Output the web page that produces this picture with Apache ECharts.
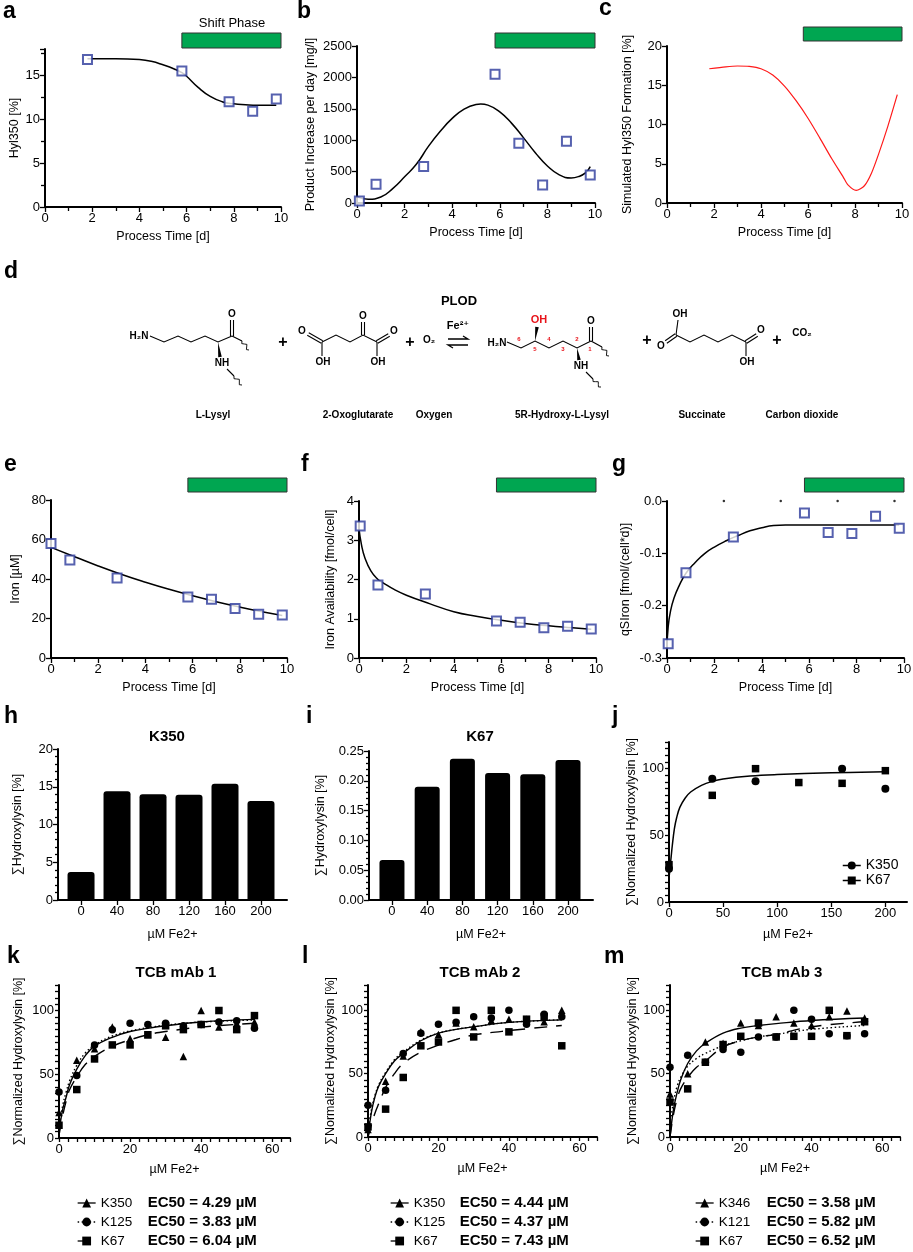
<!DOCTYPE html>
<html lang="en">
<head>
<meta charset="UTF-8">
<title>Hydroxylysine and iron panels</title>
<style>
  html, body { margin: 0; padding: 0; background: #fff; }
  #container { width: 913px; height: 1252px; }
</style>
</head>
<body>
<div id="container"></div>
<script src="https://cdn.jsdelivr.net/npm/echarts@6/dist/echarts.min.js"></script>
<script type="text/javascript">
// ---- data ----
var shiftPhase = [5.8, 10];

// a  Hyl350 vs process time
var aDays = [1.8, 5.8, 7.8, 8.8, 9.8];
var aHyl = [16.8, 15.5, 12.0, 10.9, 12.3];
var aFitDays = [1.8, 3, 4, 4.5, 5, 5.5, 5.8, 6, 6.5, 7, 7.5, 8, 8.5, 9, 9.8];
var aFit = [16.9, 16.9, 16.8, 16.6, 16.2, 15.7, 15.3, 14.9, 13.6, 12.6, 12.0, 11.75, 11.65, 11.6, 11.6];

// b  product increase per day
var bDays = [0.1, 0.8, 2.8, 5.8, 6.8, 7.8, 8.8, 9.8];
var bProduct = [30, 300, 580, 2050, 950, 285, 985, 445];
var bFitDays = [0, 0.47, 1, 1.5, 2, 2.5, 3, 3.5, 4, 4.5, 5, 5.2, 5.5, 6, 6.5, 7, 7.5, 8, 8.5, 9, 9.3, 9.6, 9.8];
var bFit = [98, 60, 95, 230, 418, 620, 901, 1142, 1347, 1496, 1569, 1576, 1558, 1452, 1268, 1037, 797, 590, 449, 400, 420, 480, 580];

// c  simulated Hyl350 formation
var cDays = [1.8, 2.5, 3, 3.5, 4, 4.5, 5, 5.5, 6, 6.5, 7, 7.5, 7.7, 8.05, 8.4, 8.7, 9, 9.4, 9.8];
var cSim = [17.1, 17.35, 17.45, 17.4, 17.1, 16.3, 14.9, 13.0, 10.8, 8.3, 5.7, 3.3, 2.3, 1.6, 2.2, 3.8, 6.2, 9.8, 13.8];

// e  iron
var eDays = [0, 0.8, 2.8, 5.8, 6.8, 7.8, 8.8, 9.8];
var eIron = [58, 49.6, 40.5, 30.9, 29.7, 25.1, 22.2, 21.8];
var eFitDays = [0, 1, 2, 3, 4, 5, 6, 7, 8, 9, 9.8];
var eFit = [56, 51.3, 46.6, 42.3, 38.4, 34.8, 31.5, 28.5, 25.8, 23.3, 21.5];

// f  iron availability
var fDays = [0.05, 0.8, 2.8, 5.8, 6.8, 7.8, 8.8, 9.8];
var fIron = [3.36, 1.86, 1.63, 0.94, 0.91, 0.77, 0.81, 0.74];
var fFitDays = [0, 0.1, 0.25, 0.5, 0.8, 1, 1.5, 2, 3, 4, 5, 6, 7, 8, 9, 9.8];
var fFit = [3.3, 2.9, 2.55, 2.22, 2.0, 1.92, 1.74, 1.6, 1.38, 1.18, 1.06, 0.96, 0.88, 0.82, 0.77, 0.73];

// g  specific iron rate
var gDays = [0.05, 0.8, 2.8, 5.8, 6.8, 7.8, 8.8, 9.8];
var gRate = [-0.273, -0.137, -0.069, -0.023, -0.060, -0.062, -0.029, -0.052];
var gFitDays = [0, 0.05, 0.15, 0.3, 0.5, 0.8, 1.2, 1.6, 2, 2.5, 3, 3.5, 4, 4.5, 5, 6, 8, 9.8];
var gFit = [-0.28, -0.24, -0.21, -0.185, -0.163, -0.138, -0.117, -0.1, -0.088, -0.076, -0.066, -0.057, -0.051, -0.047, -0.046, -0.046, -0.046, -0.046];
var gRefDays = [2.4, 4.8, 7.2, 9.6];
var gRef = [0, 0, 0, 0];

// h, i  bars
var fe2Levels = [0, 40, 80, 120, 160, 200];
var hK350 = [3.7, 14.4, 14.0, 13.95, 15.4, 13.1];
var iK67 = [0.067, 0.19, 0.237, 0.213, 0.211, 0.235];

// j  normalized
var jK350Fe = [0, 40, 80, 160, 200];
var jK350 = [25, 92.5, 90.5, 100, 85];
var jK67Fe = [0, 40, 80, 120, 160, 200];
var jK67 = [28, 80, 100, 89.6, 89, 98.5];
var jFitFe = [0, 1, 2, 3, 5, 7, 10, 15, 20, 30, 40, 50, 75, 100, 150, 200];
var jFit = [18, 26, 34, 42, 55, 63, 71, 78, 82.5, 87.5, 90.5, 92.3, 94.5, 95.6, 96.9, 97.7];

// k, l, m  TCB mAbs
var mAbFe = [0, 5, 10, 15, 20, 25, 30, 35, 40, 45, 50, 55];
var fitFe = [0, 1, 2, 3, 5, 7.5, 10, 15, 20, 25, 30, 40, 55];

var kNames = ['K350', 'K125', 'K67'];
var kEC50 = ['EC50 = 4.29 µM', 'EC50 = 3.83 µM', 'EC50 = 6.04 µM'];
var kK350 = [20, 61, 70, 87, 78, 81, 79, 64, 100, 87, 90, 91];
var kK125 = [36, 49, 73, 85, 90, 89, 90, 88, 89, 91, 92, 86];
var kK67 = [10, 38, 62, 73, 73, 81, 88, 85, 89, 100, 85, 96];
var kFitK350 = [4, 22, 32, 42, 54, 65, 72, 79, 83.5, 86, 88, 91, 93];
var kFitK125 = [8, 25, 36, 45, 57, 67, 73, 80, 84, 86.5, 88.5, 91, 92.5];
var kFitK67 = [2, 17, 29, 38, 48, 58, 64, 72, 77, 81, 83.5, 87, 90];

var lNames = ['K350', 'K125', 'K67'];
var lEC50 = ['EC50 = 4.44 µM', 'EC50 = 4.37 µM', 'EC50 = 7.43 µM'];
var lK350 = [6, 44, 64, 83, 81, 90, 87, 92, 93, 93, 91, 100];
var lK125 = [25, 37, 66, 82, 89, 90.5, 95, 94, 100, 89, 97, 95];
var lK67 = [8, 22, 47, 72, 75, 100, 79, 100, 83, 93, 95, 72];
var lFitK350 = [0, 20, 32, 40, 50, 60, 66, 76, 82, 85, 87, 90.5, 92.5];
var lFitK125 = [5, 22, 33, 41, 51, 61, 67, 76.5, 82, 85, 87, 90.5, 92.5];
var lFitK67 = [0, 10, 19, 26, 39, 50, 58, 67, 72.5, 77, 80.5, 84, 88];

var mNames = ['K346', 'K121', 'K67'];
var mEC50 = ['EC50 = 3.58 µM', 'EC50 = 5.82 µM', 'EC50 = 6.52 µM'];
var mK346 = [34, 50, 75, 74, 90, 88, 95, 90, 88, 95, 99.5, 94];
var mK121 = [55, 64.5, 59, 69, 67, 79, 79, 100, 93, 81.5, 80, 81.5];
var mK67 = [27.6, 38, 59, 73, 79.5, 90, 79, 79.5, 79.5, 100, 80, 91];
var mFitK346 = [0, 22, 35, 45, 58, 68, 74, 82, 86, 88, 89.5, 92, 94];
var mFitK121 = [10, 28, 40, 47, 56, 62, 66, 72, 76, 79, 81, 85, 88];
var mFitK67 = [0, 18, 30, 38, 47, 55, 60, 71, 76, 79, 81, 87, 91];

// ---- helpers ----
var font = "'Liberation Sans', Arial, Helvetica, sans-serif";
var chemFont = "'Liberation Sans Narrow', 'Liberation Sans', 'DejaVu Sans', sans-serif";
var tickStyle = {color: '#000', width: 1.3};
var blue = '#2c3a9b';

function pairs(xs, ys) {
  return xs.map(function (x, i) { return [x, ys[i]]; });
}

function merge(base, extra) {
  for (var k in extra) {
    if (extra[k] && typeof extra[k] === 'object' && !Array.isArray(extra[k]) && base[k] && typeof base[k] === 'object') {
      base[k] = merge(Object.assign({}, base[k]), extra[k]);
    } else {
      base[k] = extra[k];
    }
  }
  return base;
}

function plain(v) { return String(v); }

function axis(g, min, max, interval, name, gap, extra) {
  var a = {
    type: 'value', gridIndex: g, min: min, max: max,
    name: name, nameLocation: 'middle', nameGap: gap,
    nameTextStyle: {color: '#000', fontSize: 12.5, fontFamily: font},
    axisLine: {show: true, onZero: false, lineStyle: {color: '#000', width: 2}},
    axisTick: {show: true, length: 5, lineStyle: tickStyle},
    axisLabel: {show: true, color: '#000', fontSize: 13, fontFamily: font, margin: 5, formatter: plain},
    splitLine: {show: false}
  };
  if (interval != null) a.interval = interval;
  return merge(a, extra || {});
}

var dayMinor = {minorTick: {show: true, splitNumber: 2, length: 4, lineStyle: tickStyle}};
function dayAxis(g, gap) {
  return axis(g, 0, 10, 2, 'Process Time [d]', gap, dayMinor);
}

var grids = [
  {left: 45, top: 49, width: 236, height: 158},   // a
  {left: 357, top: 46, width: 238, height: 157},  // b
  {left: 667, top: 46, width: 235, height: 157},  // c
  {left: 51, top: 500, width: 236, height: 158},  // e
  {left: 359, top: 501, width: 237, height: 157}, // f
  {left: 667, top: 501, width: 237, height: 157}, // g
  {left: 58, top: 749, width: 229, height: 151},  // h
  {left: 369, top: 751, width: 224, height: 149}, // i
  {left: 669, top: 742, width: 238, height: 160}, // j
  {left: 59, top: 985, width: 231, height: 153},  // k
  {left: 368, top: 985, width: 229, height: 152}, // l
  {left: 670, top: 985, width: 230, height: 152}  // m
];
grids.forEach(function (g) { g.containLabel = false; g.outerBoundsMode = 'none'; });

var normY = {axisTick: {length: 4}, axisLabel: {customValues: [0, 50, 100]}};
var feX = {axisLabel: {customValues: [0, 40, 80, 120, 160, 200]}, axisTick: {customValues: [0, 40, 80, 120, 160, 200]}};
var doseX = {axisTick: {length: 4}, axisLabel: {customValues: [0, 20, 40, 60]}};

var xAxes = [
  dayAxis(0, 23), dayAxis(1, 23), dayAxis(2, 23),
  dayAxis(3, 23), dayAxis(4, 23), dayAxis(5, 23),
  axis(6, -25.6, 228.9, null, 'µM Fe2+', 28, feX),
  axis(7, -26.1, 228.4, null, 'µM Fe2+', 28, feX),
  axis(8, 0, 220, null, 'µM Fe2+', 26, {axisLabel: {customValues: [0, 50, 100, 150, 200]}, axisTick: {customValues: [0, 50, 100, 150, 200]}}),
  axis(9, 0, 65, 2.5, 'µM Fe2+', 25, doseX),
  axis(10, 0, 65, 2.5, 'µM Fe2+', 25, doseX),
  axis(11, 0, 65, 2.5, 'µM Fe2+', 25, doseX)
];

var yAxes = [
  axis(0, 0, 18, 5, 'Hyl350 [%]', 24, {axisLabel: {customValues: [0, 5, 10, 15]}, minorTick: {show: true, splitNumber: 2, length: 4, lineStyle: tickStyle}}),
  axis(1, 0, 2500, 500, 'Product Increase per day [mg/l]', 40),
  axis(2, 0, 20, 5, 'Simulated Hyl350 Formation [%]', 33),
  axis(3, 0, 80, 20, 'Iron [µM]', 29),
  axis(4, 0, 4, 1, 'Iron Availability [fmol/cell]', 22),
  axis(5, -0.3, 0, 0.1, 'qSIron [fmol/(cell*d)]', 35, {axisLabel: {formatter: function (v) { return v.toFixed(1); }}}),
  axis(6, 0, 20, 5, '∑Hydroxylysin [%]', 34, {minorTick: {show: true, splitNumber: 5, length: 3, lineStyle: tickStyle}}),
  axis(7, 0, 0.25, 0.05, '∑Hydroxylysin [%]', 42, {axisLabel: {formatter: function (v) { return v.toFixed(2); }}, minorTick: {show: true, splitNumber: 5, length: 3, lineStyle: tickStyle}}),
  axis(8, 0, 120, 5, '∑Normalized Hydroxylysin [%]', 29, normY),
  axis(9, 0, 120, 5, '∑Normalized Hydroxylysin [%]', 34, normY),
  axis(10, 0, 120, 5, '∑Normalized Hydroxylysin [%]', 30, normY),
  axis(11, 0, 120, 5, '∑Normalized Hydroxylysin [%]', 31, normY)
];

var series = [];
function addSquares(g, xs, ys) {
  series.push({
    type: 'scatter', xAxisIndex: g, yAxisIndex: g, data: pairs(xs, ys),
    symbol: 'rect', symbolSize: 9, z: 4,
    itemStyle: {color: '#fff', borderColor: blue, borderWidth: 2}
  });
}
function addCurve(g, xs, ys, color, width, type, smooth) {
  series.push({
    type: 'line', xAxisIndex: g, yAxisIndex: g, data: pairs(xs, ys),
    smooth: smooth == null ? 0.5 : smooth,
    showSymbol: false, symbol: 'none', z: 3,
    lineStyle: {color: color, width: width, type: type || 'solid'}
  });
}
function addMarkers(g, name, xs, ys, symbol, size) {
  // points only; the line is kept for the legend icon
  series.push({
    type: 'line', name: name, xAxisIndex: g, yAxisIndex: g, data: pairs(xs, ys),
    symbol: symbol, symbolSize: size, showSymbol: true, z: 4,
    itemStyle: {color: '#000'},
    lineStyle: {opacity: 0, width: 0}
  });
}

addCurve(0, aFitDays, aFit, '#000', 1.5);
addSquares(0, aDays, aHyl);
addCurve(1, bFitDays, bFit, '#000', 1.5);
addSquares(1, bDays, bProduct);
addCurve(2, cDays, cSim, '#ff1a1a', 1.2, 'solid', 0.25);
addCurve(3, eFitDays, eFit, '#000', 1.5);
addSquares(3, eDays, eIron);
addCurve(4, fFitDays, fFit, '#000', 1.5);
addSquares(4, fDays, fIron);
addCurve(5, gFitDays, gFit, '#000', 1.5);
addSquares(5, gDays, gRate);
series.push({type: 'scatter', xAxisIndex: 5, yAxisIndex: 5, data: pairs(gRefDays, gRef), symbol: 'circle', symbolSize: 2.5, itemStyle: {color: '#000'}});

series.push({type: 'bar', xAxisIndex: 6, yAxisIndex: 6, data: pairs(fe2Levels, hK350), barWidth: 27, itemStyle: {color: '#000', borderRadius: [3, 3, 0, 0]}});
series.push({type: 'bar', xAxisIndex: 7, yAxisIndex: 7, data: pairs(fe2Levels, iK67), barWidth: 25, itemStyle: {color: '#000', borderRadius: [3, 3, 0, 0]}});

addCurve(8, jFitFe, jFit, '#000', 1.5, 'solid', 0.4);
addMarkers(8, 'j:K350', jK350Fe, jK350, 'circle', 8);
addMarkers(8, 'j:K67', jK67Fe, jK67, 'rect', 7.5);

var lineTypes = ['solid', [1.5, 2.5], [13, 9]];
var symbols = ['triangle', 'circle', 'rect'];
var legendText = {'j:K350': 'K350', 'j:K67': 'K67'};

function addDose(g, key, names, ec50, pts, fits) {
  var items = [];
  names.forEach(function (n, i) {
    var id = key + ':' + n;
    addCurve(g, fitFe, fits[i], '#000', 1.4, lineTypes[i], 0.4);
    addMarkers(g, id, mAbFe, pts[i], symbols[i], symbols[i] === 'rect' ? 7.5 : 7.5);
    legendText[id] = '{n|' + n + '}{e|' + ec50[i] + '}';
    items.push({name: id, lineStyle: {opacity: 1, width: 1.3, color: '#000', type: lineTypes[i]}, itemStyle: {color: '#000'}});
  });
  return items;
}
var kItems = addDose(9, 'k', kNames, kEC50, [kK350, kK125, kK67], [kFitK350, kFitK125, kFitK67]);
var lItems = addDose(10, 'l', lNames, lEC50, [lK350, lK125, lK67], [lFitK350, lFitK125, lFitK67]);
var mItems = addDose(11, 'm', mNames, mEC50, [mK346, mK121, mK67], [mFitK346, mFitK121, mFitK67]);

function doseLegend(left, items, nameWidth) {
  return {
    left: left, top: 1194, orient: 'vertical', selectedMode: false,
    padding: 0, itemWidth: 18, itemHeight: 11, itemGap: 1, data: items,
    formatter: function (name) { return legendText[name]; },
    textStyle: {
      color: '#000', fontFamily: font, lineHeight: 18,
      rich: {
        n: {fontSize: 13.5, width: nameWidth, fontFamily: font, color: '#000', lineHeight: 18},
        e: {fontSize: 15, fontWeight: 'bold', fontFamily: font, color: '#000', lineHeight: 18}
      }
    }
  };
}

var option = {
  animation: false,
  backgroundColor: '#fff',
  grid: grids,
  xAxis: xAxes,
  yAxis: yAxes,
  legend: [
    {
      left: 842, top: 858, orient: 'vertical', selectedMode: false,
      padding: 0, itemWidth: 18, itemHeight: 10, itemGap: 0,
      formatter: function (name) { return legendText[name]; },
      textStyle: {fontSize: 14, color: '#000', fontFamily: font, lineHeight: 15},
      data: [
        {name: 'j:K350', lineStyle: {opacity: 1, width: 1.5, color: '#000', type: 'solid'}},
        {name: 'j:K67', lineStyle: {opacity: 1, width: 1.5, color: '#000', type: 'solid'}}
      ]
    },
    doseLegend(77, kItems, 47),
    doseLegend(390, lItems, 46),
    doseLegend(695, mItems, 48)
  ],
  series: series
};

var dom = document.getElementById('container');
var myChart = echarts.init(dom);
myChart.setOption(option);

// ---- drawn decorations: panel letters, titles, reaction scheme ----
var graphics = [];
function txt(x, y, s, size, opts) {
  opts = opts || {};
  graphics.push({
    type: 'text', x: x, y: y, silent: true,
    style: {
      text: s, fontSize: size, fontFamily: opts.family || font,
      fontWeight: opts.weight || 'normal', fill: opts.color || '#000',
      align: opts.align || 'center', verticalAlign: 'middle'
    }
  });
}
function bond(pts, w) {
  graphics.push({type: 'polyline', silent: true, shape: {points: pts}, style: {stroke: '#000', lineWidth: w || 1.1, fill: null}});
}
function dbl(x1, y1, x2, y2) {
  var dx = x2 - x1, dy = y2 - y1, L = Math.sqrt(dx * dx + dy * dy);
  var ox = -dy / L * 1.5, oy = dx / L * 1.5;
  bond([[x1 + ox, y1 + oy], [x2 + ox, y2 + oy]]);
  bond([[x1 - ox, y1 - oy], [x2 - ox, y2 - oy]]);
}
function wedge(x1, y1, x2, y2) {
  var dx = x2 - x1, dy = y2 - y1, L = Math.sqrt(dx * dx + dy * dy);
  var px = -dy / L * 1.8, py = dx / L * 1.8;
  graphics.push({type: 'polygon', silent: true, shape: {points: [[x1, y1], [x2 + px, y2 + py], [x2 - px, y2 - py]]}, style: {fill: '#000'}});
}
function wavy(x1, y1, x2, y2) {
  var dx = x2 - x1, dy = y2 - y1, L = Math.sqrt(dx * dx + dy * dy);
  var px = -dy / L * 1.8, py = dx / L * 1.8, pts = [];
  for (var i = 0; i <= 6; i++) {
    var s = i % 2 === 0 ? 0 : (i % 4 === 1 ? 1 : -1);
    pts.push([x1 + dx * i / 6 + px * s, y1 + dy * i / 6 + py * s]);
  }
  bond(pts, 0.9);
}
function chem(x, y, s, size, color) {
  txt(x, y, s, size || 10, {weight: 'bold', family: chemFont, color: color});
}

// panel letters
[['a', 3, 12], ['b', 297, 12], ['c', 599, 9], ['d', 4, 272], ['e', 4, 465], ['f', 301, 465], ['g', 612, 465],
 ['h', 4, 717], ['i', 306, 717], ['j', 612, 717], ['k', 7, 957], ['l', 302, 957], ['m', 604, 957]].forEach(function (p) {
  txt(p[1], p[2], p[0], 23, {weight: 'bold', align: 'left'});
});
txt(232, 23, 'Shift Phase', 13);
txt(167, 737, 'K350', 15, {weight: 'bold'});
txt(480, 737, 'K67', 15, {weight: 'bold'});
txt(176, 973, 'TCB mAb 1', 15, {weight: 'bold'});
txt(480, 973, 'TCB mAb 2', 15, {weight: 'bold'});
txt(782, 973, 'TCB mAb 3', 15, {weight: 'bold'});

// L-lysyl
chem(139, 336, 'H₂N');
bond([[150, 336], [164, 342], [178, 336], [191, 342], [205, 336], [218, 342], [232, 336]]);
dbl(232, 336, 232, 320); chem(232, 314, 'O');
bond([[232, 336], [242, 341]]); wavy(242, 341, 249, 350);
wedge(218, 342, 220, 357); chem(222, 363, 'NH');
bond([[227, 369], [234, 376]]); wavy(234, 376, 242, 385);
chem(283, 343, '+', 16);
// 2-oxoglutarate
bond([[322, 342], [336, 335], [350, 342], [363, 335], [377, 342]]);
dbl(322, 342, 308, 334); chem(302, 331, 'O');
bond([[322, 342], [322, 356]]); chem(323, 362, 'OH');
dbl(363, 335, 363, 322); chem(363, 316, 'O');
dbl(377, 342, 389, 335); chem(394, 331, 'O');
bond([[377, 342], [377, 356]]); chem(378, 362, 'OH');
chem(410, 343, '+', 16);
chem(429, 340, 'O₂', 10);
// enzyme and arrows
chem(459, 301, 'PLOD', 13);
chem(458, 326, 'Fe²⁺', 11);
bond([[448, 339], [468, 339], [463, 336]], 1.3);
bond([[468, 345], [448, 345], [453, 348]], 1.3);
// 5R-hydroxy-L-lysyl
chem(497, 343, 'H₂N');
bond([[507, 342], [521, 348], [535, 341], [549, 348], [563, 341], [577, 348], [591, 341]]);
wedge(535, 341, 537, 327); chem(539, 320, 'OH', 11, '#e8141b');
dbl(591, 341, 591, 327); chem(591, 321, 'O');
bond([[591, 341], [602, 347]]); wavy(602, 347, 609, 356);
wedge(577, 348, 579, 360); chem(581, 366, 'NH');
bond([[586, 372], [593, 379]]); wavy(593, 379, 601, 387);
[['6', 519, 339], ['5', 535, 349], ['4', 549, 339], ['3', 563, 349], ['2', 577, 339], ['1', 590, 349]].forEach(function (n) {
  chem(n[1], n[2], n[0], 6, '#e8141b');
});
chem(647, 341, '+', 16);
// succinate
bond([[676, 335], [690, 342], [704, 335], [718, 342], [732, 335], [746, 342]]);
bond([[676, 335], [678, 320]]); chem(680, 314, 'OH');
dbl(676, 335, 666, 342); chem(661, 346, 'O');
dbl(746, 342, 757, 335); chem(761, 330, 'O');
bond([[746, 342], [746, 356]]); chem(747, 362, 'OH');
chem(777, 341, '+', 16);
chem(802, 333, 'CO₂', 10);
// compound names
[['L-Lysyl', 213], ['2-Oxoglutarate', 358], ['Oxygen', 434], ['5R-Hydroxy-L-Lysyl', 562], ['Succinate', 702], ['Carbon dioxide', 802]].forEach(function (c) {
  chem(c[1], 415, c[0], 10);
});

// shift phase bars placed through the x axes of a-c and e-g
[[0, 33, 15], [1, 33, 15], [2, 27, 14], [3, 478, 14], [4, 478, 14], [5, 478, 14]].forEach(function (b) {
  var x0 = myChart.convertToPixel({xAxisIndex: b[0]}, shiftPhase[0]);
  var x1 = myChart.convertToPixel({xAxisIndex: b[0]}, shiftPhase[1]);
  graphics.push({type: 'rect', silent: true, shape: {x: x0, y: b[1], width: x1 - x0, height: b[2]}, style: {fill: '#00a651', stroke: '#333', lineWidth: 1}});
});

myChart.setOption({graphic: graphics});
</script>
</body>
</html>
